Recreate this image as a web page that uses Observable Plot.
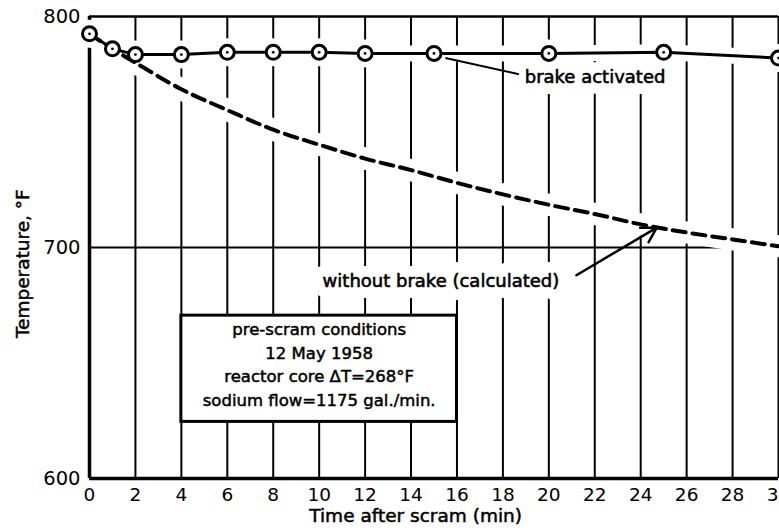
<!DOCTYPE html>
<html>
<head>
<meta charset="utf-8">
<script src="https://cdn.jsdelivr.net/npm/d3@7"></script>
<script src="https://cdn.jsdelivr.net/npm/@observablehq/plot@0.6"></script>
<style>
  html, body { margin: 0; padding: 0; background: #fff; }
  svg { font-family: "DejaVu Sans", sans-serif; }
</style>
</head>
<body>
<div id="chart"></div>
<script>
// Brake activated (measured points)
const timeBrake = [0, 1, 2, 4, 6, 8, 10, 12, 15, 20, 25, 30];
const tempBrake = [792.5, 786, 783.5, 783.5, 784.5, 784.5, 784.5, 784, 784, 784, 784.5, 782];
// Without brake (calculated)
const timeNoBrake = [0, 1, 2, 4, 6, 8, 10, 12, 14, 16, 18, 20, 22, 24, 26, 28, 30];
const tempNoBrake = [792.5, 786, 780, 768.5, 759.5, 751, 744.5, 738.5, 733.5, 728, 723, 718.5, 714.5, 710, 706.5, 703.5, 700.5];
// Ticks
const xTicks = [0, 2, 4, 6, 8, 10, 12, 14, 16, 18, 20, 22, 24, 26, 28, 30];
const yTicks = [600, 700, 800];
const boxLines = ["pre-scram conditions", "12 May 1958", "reactor core \u0394T=268\u00b0F", "sodium flow=1175 gal./min."];

const brake = timeBrake.map((t, i) => ({t, v: tempBrake[i]}));
const noBrake = timeNoBrake.map((t, i) => ({t, v: tempNoBrake[i]}));

const ink = {fill: "black", stroke: "black", strokeWidth: 0.6};
const halo = {fill: "white", stroke: "white", strokeWidth: 22};

const chart = Plot.plot({
  width: 779,
  height: 531,
  marginLeft: 89,
  marginRight: 1,
  marginTop: 16,
  marginBottom: 53,
  style: {fontFamily: "DejaVu Sans, sans-serif", color: "black", background: "white"},
  x: {domain: [0, 30]},
  y: {domain: [600, 800]},
  marks: [
    Plot.gridX(xTicks, {stroke: "black", strokeOpacity: 1, strokeWidth: 2}),
    Plot.gridY([700], {stroke: "black", strokeOpacity: 1, strokeWidth: 2}),
    Plot.ruleY([800], {stroke: "black", strokeWidth: 2.5}),
    Plot.ruleY([600], {stroke: "black", strokeWidth: 3.5}),
    Plot.ruleX([0], {stroke: "black", strokeWidth: 3.5}),
    // white halos that interrupt grid lines
    Plot.line(noBrake, {x: "t", y: "v", curve: "catmull-rom", stroke: "white", strokeWidth: 22}),
    Plot.line(brake, {x: "t", y: "v", stroke: "white", strokeWidth: 16}),
    Plot.dot(brake, {x: "t", y: "v", r: 14, fill: "white", stroke: null}),
    Plot.text(["brake activated"], {x: 18.95, y: 773.5, textAnchor: "start", fontSize: 18, ...halo}),
    Plot.text(["without brake (calculated)"], {x: 10.15, y: 685.5, textAnchor: "start", fontSize: 18, ...halo}),
    // data lines
    Plot.line(noBrake, {x: "t", y: "v", curve: "catmull-rom", stroke: "black", strokeWidth: 4, strokeDasharray: "13,7"}),
    Plot.line(brake, {x: "t", y: "v", stroke: "black", strokeWidth: 3}),
    Plot.dot(brake, {x: "t", y: "v", r: 7, fill: "white", stroke: "black", strokeWidth: 3}),
    Plot.dot(brake, {x: "t", y: "v", r: 1.4, fill: "black", stroke: null}),
    // leader for "brake activated"
    Plot.link([0], {x1: 15.5, y1: 782, x2: 18.7, y2: 775, stroke: "black", strokeWidth: 2}),
    Plot.text(["brake activated"], {x: 18.95, y: 773.5, textAnchor: "start", fontSize: 18, ...ink}),
    // arrow for "without brake (calculated)"
    Plot.text(["without brake (calculated)"], {x: 10.15, y: 685.5, textAnchor: "start", fontSize: 18, ...ink}),
    Plot.arrow([0], {x1: 21.2, y1: 688, x2: 24.7, y2: 708.6, stroke: "black", strokeWidth: 2.5, headLength: 10, bend: 0}),
    // annotation box
    Plot.rect([0], {x1: 4, x2: 16, y1: 624.5, y2: 670.5, fill: "white", stroke: "black", strokeWidth: 3}),
    Plot.text([boxLines.join("\n")], {x: 10, y: 650, textAnchor: "middle", lineHeight: 1.42, fontSize: 16.5, ...ink, strokeWidth: 0.5}),
    // axes
    Plot.axisX(xTicks, {tickSize: 0, tickPadding: 9, fontSize: 18.5, label: null, stroke: "black", strokeWidth: 0.4}),
    Plot.axisY(yTicks, {tickSize: 0, tickPadding: 9, fontSize: 19.5, label: null, stroke: "black", strokeWidth: 0.4}),
    Plot.text(["Time after scram (min)"], {frameAnchor: "bottom", textAnchor: "middle", lineAnchor: "middle", x: 14.2, dy: 38, fontSize: 18.5, ...ink, strokeWidth: 0.5}),
    Plot.text(["Temperature, \u00b0F"], {frameAnchor: "left", textAnchor: "middle", y: 693, dx: -66, rotate: -90, fontSize: 18.5, ...ink, strokeWidth: 0.5})
  ]
});
document.getElementById("chart").appendChild(chart);
</script>
</body>
</html>
